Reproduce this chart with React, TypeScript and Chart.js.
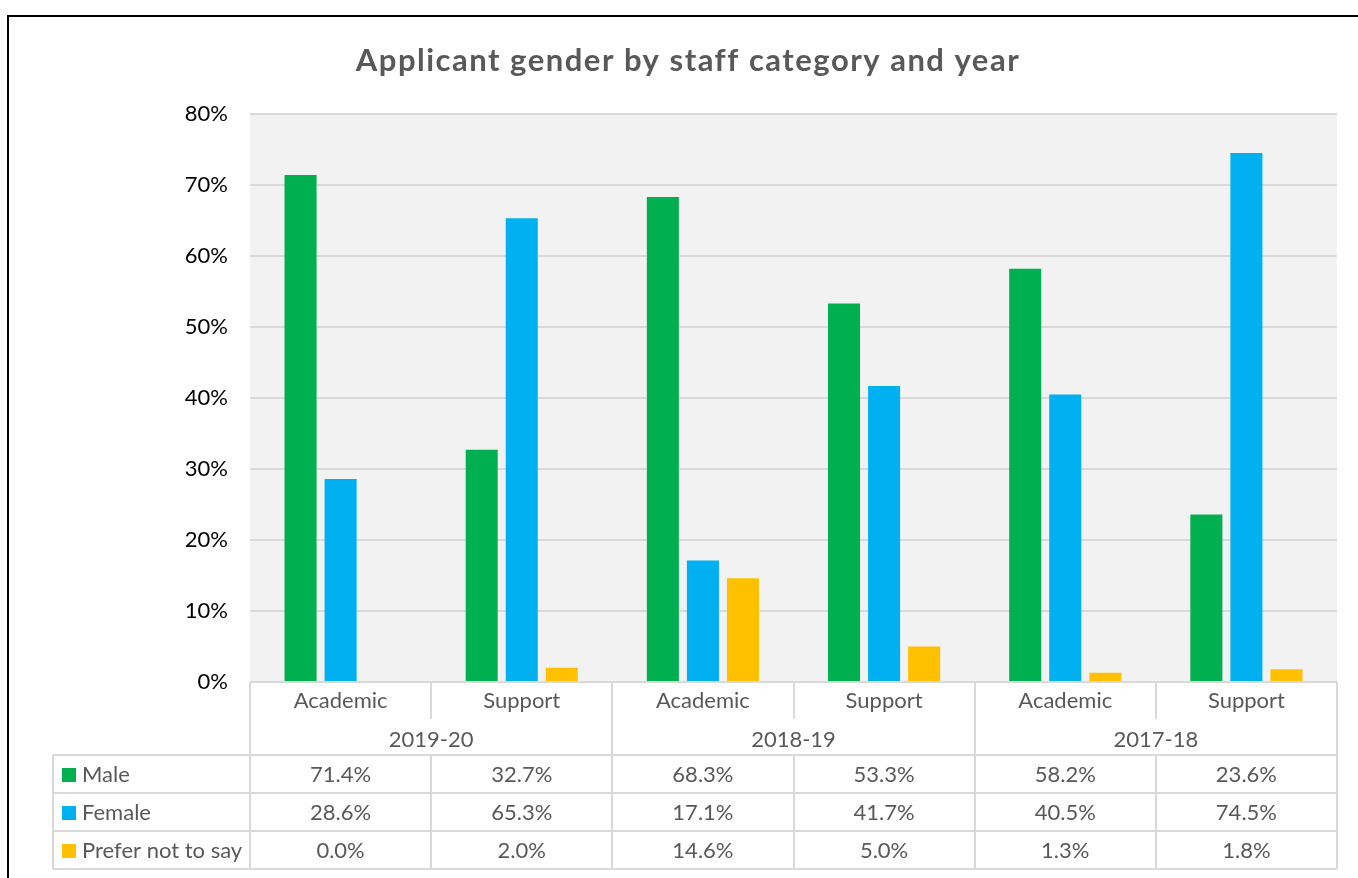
import React, { useEffect, useRef } from "react";
import { Chart, registerables } from "chart.js";

Chart.register(...registerables);

const titleText = "Applicant gender by staff category and year";
const categories = ["Academic", "Support", "Academic", "Support", "Academic", "Support"];
const years = ["2019-20", "2018-19", "2017-18"];
const seriesNames = ["Male", "Female", "Prefer not to say"];
const maleValues = [71.4, 32.7, 68.3, 53.3, 58.2, 23.6];
const femaleValues = [28.6, 65.3, 17.1, 41.7, 40.5, 74.5];
const preferNotValues = [0.0, 2.0, 14.6, 5.0, 1.3, 1.8];
const seriesColors = ["#00B050", "#00B0F0", "#FFC000"];
const yTicks = [0, 10, 20, 30, 40, 50, 60, 70, 80];

const FONT = "Lato, 'Open Sans', sans-serif";
const TEXT_GRAY = "#595959";
const LINE_GRAY = "#d9d9d9";

const decorPlugin = {
  id: "decor",
  beforeDraw(chart: any) {
    const { ctx, chartArea: a } = chart;
    ctx.save();
    ctx.fillStyle = "#ffffff";
    ctx.fillRect(0, 0, chart.width, chart.height);
    ctx.fillStyle = "#f2f2f2";
    ctx.fillRect(a.left, a.top, a.right - a.left, a.bottom - a.top);
    ctx.restore();
  },
  afterDraw(chart: any) {
    const { ctx, chartArea: a } = chart;
    const n = categories.length;
    const colW = (a.right - a.left) / n;
    const top = a.bottom;
    const catBottom = top + 37;
    const yearBottom = top + 73;
    const rowH = 38;
    const legendLeft = 53;
    const values = [maleValues, femaleValues, preferNotValues];
    ctx.save();
    // frame
    ctx.strokeStyle = "#000";
    ctx.lineWidth = 2;
    ctx.beginPath();
    ctx.moveTo(8, chart.height);
    ctx.lineTo(8, 16);
    ctx.lineTo(chart.width, 16);
    ctx.stroke();

    // title
    ctx.fillStyle = TEXT_GRAY;
    ctx.font = `bold 31px ${FONT}`;
    (ctx as any).letterSpacing = "1.5px";
    ctx.textAlign = "center";
    ctx.textBaseline = "middle";
    ctx.fillText(titleText, 688, 61);
    (ctx as any).letterSpacing = "0px";

    // table lines
    ctx.strokeStyle = LINE_GRAY;
    ctx.lineWidth = 2;
    ctx.beginPath();
    ctx.moveTo(a.left, top);
    ctx.lineTo(a.right, top);
    for (let i = 0; i <= n; i++) {
      const x = Math.round(a.left + i * colW);
      const full = i % 2 === 0;
      ctx.moveTo(x, top);
      ctx.lineTo(x, full ? yearBottom + rowH * 3 : catBottom);
      if (!full) {
        ctx.moveTo(x, yearBottom);
        ctx.lineTo(x, yearBottom + rowH * 3);
      }
    }
    for (let r = 0; r <= 3; r++) {
      const y = yearBottom + r * rowH;
      ctx.moveTo(legendLeft, y);
      ctx.lineTo(a.right, y);
    }
    ctx.moveTo(legendLeft, yearBottom);
    ctx.lineTo(legendLeft, yearBottom + rowH * 3);
    ctx.stroke();

    // header text
    ctx.fillStyle = TEXT_GRAY;
    ctx.font = `22px ${FONT}`;
    ctx.textAlign = "center";
    ctx.textBaseline = "middle";
    categories.forEach((c, i) => {
      ctx.fillText(c, a.left + (i + 0.5) * colW, top + 19);
    });
    years.forEach((yv, i) => {
      ctx.fillText(yv, a.left + (2 * i + 1) * colW, top + 58);
    });
    for (let r = 0; r < 3; r++) {
      const yc = yearBottom + r * rowH + rowH / 2 + 1;
      values[r].forEach((v, i) => {
        ctx.textAlign = "center";
        ctx.fillStyle = TEXT_GRAY;
        ctx.fillText(v.toFixed(1) + "%", a.left + (i + 0.5) * colW, yc);
      });
      ctx.fillStyle = seriesColors[r];
      ctx.fillRect(62, yc - 7, 14, 14);
      ctx.fillStyle = TEXT_GRAY;
      ctx.textAlign = "left";
      ctx.fillText(seriesNames[r], 82, yc);
    }
    ctx.restore();
  },
};

export default function App() {
  const ref = useRef<HTMLCanvasElement>(null);
  useEffect(() => {
    if (!ref.current) return;
    const chart = new Chart(ref.current, {
      type: "bar",
      data: {
        labels: categories,
        datasets: [
          { label: seriesNames[0], data: maleValues, backgroundColor: seriesColors[0] },
          { label: seriesNames[1], data: femaleValues, backgroundColor: seriesColors[1] },
          { label: seriesNames[2], data: preferNotValues, backgroundColor: seriesColors[2] },
        ],
      },
      options: {
        responsive: false,
        animation: false,
        devicePixelRatio: 1,
        layout: { padding: { top: 114, left: 0, right: 21, bottom: 196 } },
        datasets: { bar: { categoryPercentage: 0.663, barPercentage: 0.8 } },
        plugins: { legend: { display: false }, title: { display: false }, tooltip: { enabled: false } },
        scales: {
          x: { display: false },
          y: {
            min: 0,
            max: 80,
            afterFit: (s: any) => { s.width = 250; },
            afterBuildTicks: (s: any) => { s.ticks = yTicks.map((v) => ({ value: v })); },
            border: { display: false },
            grid: { color: LINE_GRAY, lineWidth: 2, drawTicks: false },
            ticks: {
              padding: 22,
              color: "#000",
              font: { family: FONT, size: 22 },
              callback: (v: any) => v + "%",
            },
          },
        },
      },
      plugins: [decorPlugin],
    });
    return () => chart.destroy();
  }, []);
  return (
    <div style={{ position: "fixed", left: 0, top: 0, width: 1358, height: 878 }}>
      <canvas ref={ref} width={1358} height={878} />
    </div>
  );
}
